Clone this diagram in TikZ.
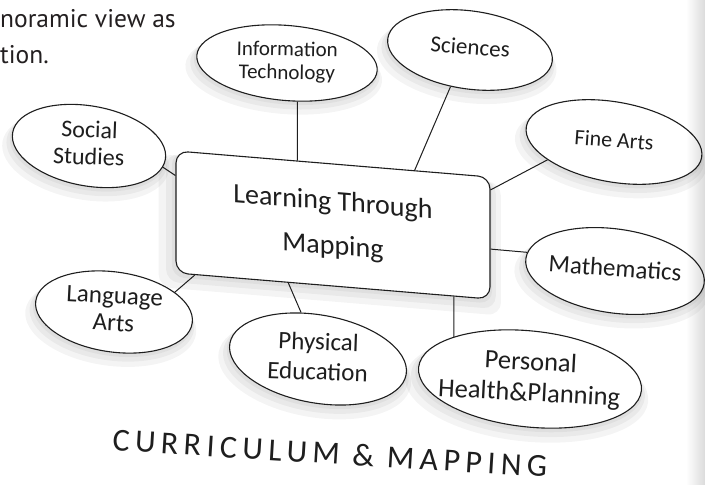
\documentclass[tikz,border=0pt]{standalone}
\usepackage{fontspec}
\usepackage{graphicx}
\setmainfont{PT Sans}
\newfontfamily\handfont{Carlito}
\usetikzlibrary{shapes.geometric, shadows, fadings}
\definecolor{ink}{RGB}{30, 30, 30}
\definecolor{print_black}{RGB}{35, 31, 32}
\newcommand{\inksize}[2]{\handfont\fontsize{#1}{#2}\selectfont}
\newcommand{\nosize}[2][0]{\makebox[0pt]{\smash{\raisebox{-.25em}{\rotatebox[origin=c]{#1}{\begin{tabular}{@{}c@{}}#2\end{tabular}}}}}}

\begin{document}
\begin{tikzpicture}[
    x=1pt, y=-1pt,
    blurshadow/.style={
        general shadow={fill=black, opacity=.045, shadow xshift=-3pt, shadow yshift=-9pt, shadow scale=1.09},
        general shadow={fill=black, opacity=.045, shadow xshift=-2pt, shadow yshift=-6pt, shadow scale=1.05},
        general shadow={fill=black, opacity=.045, shadow xshift=-1pt, shadow yshift=-3pt, shadow scale=1.02}
    },
    topic/.style={
        ellipse,
        draw=ink,
        fill=white,
        line width=1.1pt,
        inner sep=0pt,
        text=ink,
        blurshadow
    },
    hub/.style={
        rectangle,
        draw=ink,
        fill=white,
        line width=1.1pt,
        rounded corners=12pt,
        minimum width=314pt,
        minimum height=122pt,
        text=ink,
        align=center,
        blurshadow
    },
    pagetext/.style={
        text=print_black,
        inner sep=0pt,
        font=\fontsize{25.5}{30}\selectfont
    },
    link/.style={
        draw=ink,
        line width=1pt
    }
]
\useasboundingbox (0,0) rectangle (705,485);

% page text cut off at the top left
\node[pagetext, anchor=base west] (pageline1) at (0,27) {noramic view as};
\node[pagetext, anchor=base west] (pageline2) at (0,63) {tion.};

% central box
\node[hub, yslant=-0.083, font=\inksize{28}{44}] (hub) at (333,225) {Learning Through\\Mapping};

% subject bubbles round the box
\node[topic, minimum width=181pt, minimum height=75pt, rotate=-5, font=\inksize{21}{23}] (infotech) at (287,63) {\nosize[4]{Information\\Technology}};
\node[topic, minimum width=166pt, minimum height=78pt, rotate=-8, font=\inksize{23}{26}] (sciences) at (470,50) {\nosize[4]{Sciences}};
\node[topic, minimum width=155pt, minimum height=80pt, rotate=-10, font=\inksize{24}{27}] (social) at (89,146) {\nosize[8]{Social\\Studies}};
\node[topic, minimum width=178pt, minimum height=80pt, rotate=-10, font=\inksize{22}{26}] (finearts) at (614,142) {\nosize[6]{Fine Arts}};
\node[topic, minimum width=180pt, minimum height=84pt, rotate=-8, font=\inksize{25}{28}] (maths) at (615,271) {\nosize[4]{Mathematics}};
\node[topic, minimum width=224pt, minimum height=96pt, rotate=-6, font=\inksize{26.5}{31}] (health) at (530,379) {\nosize[3]{Personal\\Health\&Planning}};
\node[topic, minimum width=179pt, minimum height=88pt, rotate=-10, font=\inksize{25}{30}] (physical) at (318,359) {\nosize[8]{Physical\\Education}};
\node[topic, minimum width=158pt, minimum height=80pt, rotate=-8, font=\inksize{25}{27}] (language) at (114,312) {\nosize[5]{Language\\Arts}};

% caption
\node[text=ink, inner sep=0pt, rotate=-3.5, font={\inksize{32}{36}\addfontfeature{LetterSpace=17}}] (caption) at (330,453) {CURRICULUM \& MAPPING};

% links
\draw[link] (infotech.-70) -- (hub.120);
\draw[link] (sciences.-110) -- (hub.37);
\draw[link] (social.-6) -- (hub.167);
\draw[link] (finearts.-155) -- (hub.17);
\draw[link] (maths.176) -- (hub.-4);
\draw[link] (health.157) -- (hub.-27);
\draw[link] (physical.120) -- (hub.-126);
\draw[link] (language.26) -- (hub.-156);

% page gutter on the right
\fill[black, opacity=0.14, path fading=west] (686,0) rectangle (705,485);

\end{tikzpicture}
\end{document}
